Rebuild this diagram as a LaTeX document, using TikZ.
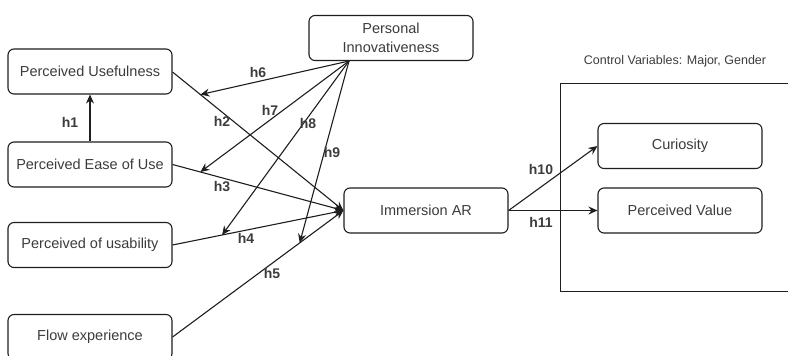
\documentclass[tikz,border=0pt]{standalone}
\usepackage{fontspec}
\setmainfont{Liberation Sans}
\usepackage{tikz}
\usetikzlibrary{arrows.meta,calc,positioning}
\definecolor{inkgray}{RGB}{60,60,60}
\definecolor{linegray}{RGB}{30,30,30}
\tikzset{
  construct/.style={draw=linegray, line width=1.1pt, fill=white,
                    minimum width=164pt, minimum height=45pt,
                    rounded corners=6pt, inner sep=2pt, align=center,
                    text=inkgray, font=\fontsize{14.5}{17}\selectfont},
  hyp/.style={font=\bfseries\fontsize{14}{16}\selectfont, text=inkgray, inner sep=1pt},
  flow/.style={-{Stealth[length=9pt,width=8pt]}, draw=linegray, line width=1.1pt},
  group/.style={draw=linegray, line width=1pt},
}

\begin{document}
\begin{tikzpicture}[x=1pt,y=-1pt]
  \path[use as bounding box] (0,0) rectangle (788,356);
  \clip (0,0) rectangle (788,356);

  % antecedents on the left
  \node[construct] (PU)  at (90,71.5)  {Perceived Usefulness};
  \node[construct] (PEU) at (90,164.5) {Perceived Ease of Use};
  \node[construct] (PoU) at (90,245)   {Perceived of usability};
  \node[construct] (FE)  at (90,337)   {Flow experience};

  % moderator and mediator
  \node[construct, font=\fontsize{14.5}{19}\selectfont] (PI) at (391,38)
    {Personal\\Innovativeness};
  \node[construct] (IAR) at (426,210.5) {Immersion AR};

  % outcomes inside the control-variable frame
  \draw[group] (560,83) rectangle (800,291);
  \node[text=inkgray, font=\fontsize{12.5}{14}\selectfont] (CV) at (675,61)
    {Control Variables: Major, Gender};
  \node[construct] (CU) at (680,146)   {Curiosity};
  \node[construct] (PV) at (680,210.5) {Perceived Value};

  % direct paths
  \coordinate (PUe)  at ($(PU.east)+(0,0.5)$);
  \draw[flow] (PEU.north) -- (PU.south);
  \draw[flow] (PUe) -- coordinate[pos=0.163] (m6) (IAR.west);
  \draw[flow] (PEU.east) -- coordinate[pos=0.163] (m7) (IAR.west);
  \draw[flow] (PoU.east) -- coordinate[pos=0.29] (m8) (IAR.west);
  \draw[flow] (FE.east) -- coordinate[pos=0.744] (m9) (IAR.west);
  \draw[flow] (IAR.east) -- (CU.west);
  \draw[flow] (IAR.east) -- (PV.west);

  % moderating paths
  \coordinate (PIs) at (349,61);
  \draw[flow] (PIs) -- (m6);
  \draw[flow] (PIs) -- (m7);
  \draw[flow] (PIs) -- (m8);
  \draw[flow] (PIs) -- (m9);

  \node[hyp] (h1)  at (70,122)  {h1};
  \node[hyp] (h2)  at (222,121) {h2};
  \node[hyp] (h3)  at (222,187) {h3};
  \node[hyp] (h4)  at (246,238) {h4};
  \node[hyp] (h5)  at (272,273) {h5};
  \node[hyp] (h6)  at (258,72)  {h6};
  \node[hyp] (h7)  at (270,110) {h7};
  \node[hyp] (h8)  at (308,123) {h8};
  \node[hyp] (h9)  at (332,152) {h9};
  \node[hyp] (h10) at (541,169) {h10};
  \node[hyp] (h11) at (541,222) {h11};
\end{tikzpicture}
\end{document}
